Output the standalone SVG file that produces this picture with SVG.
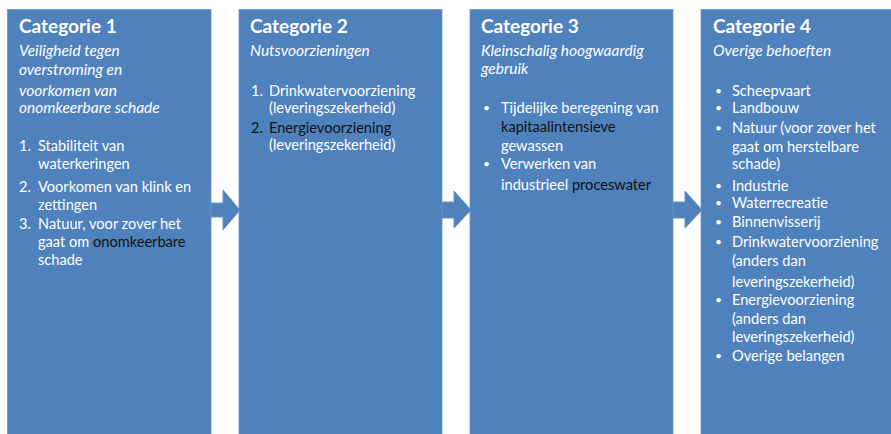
<svg xmlns="http://www.w3.org/2000/svg" width="891" height="434" viewBox="0 0 891 434">
<style>
.box{fill:#4F81BD;stroke:#6B94C8;stroke-width:0.8}
.arrow{fill:#4F81BD;stroke:#6B94C8;stroke-width:1}
text{font-family:Lato,"Open Sans","Liberation Sans",sans-serif;fill:#FFFFFF;font-size:14.6px}
.h{font-weight:bold;font-size:19px}
.i{font-style:italic;font-size:15.5px}
.b{font-size:12px}
.k{fill:#111111}
</style>
<rect width="891" height="434" fill="#FFFFFF"/>
<g id="connectors">
<polygon class="arrow" points="197,203 223,203 223,190 240,210 223,230 223,217 197,217"/>
<polygon class="arrow" points="428,202 454,202 454,191 471,210 454,228 454,218 428,218"/>
<polygon class="arrow" points="659,202 685,202 685,191 702,210 685,228 685,218 659,218"/>
</g>
<g id="cat1">
<rect class="box" x="7.5" y="9.5" width="203.5" height="430"/>
<text class="h" x="19" y="33">Categorie 1</text>
<text class="i" x="19" y="56">Veiligheid tegen</text>
<text class="i" x="19" y="75">overstroming en</text>
<text class="i" x="19" y="96">voorkomen van</text>
<text class="i" x="19" y="113">onomkeerbare schade</text>
<text x="19" y="151">1.</text><text x="38" y="151">Stabiliteit van</text>
<text x="38" y="169">waterkeringen</text>
<text x="19" y="192">2.</text><text x="38" y="192">Voorkomen van klink en</text>
<text x="38" y="210">zettingen</text>
<text x="19" y="229">3.</text><text x="38" y="229">Natuur, voor zover het</text>
<text x="38" y="247">gaat om <tspan class="k">onomkeerbare</tspan></text>
<text x="38" y="265">schade</text>
</g>
<g id="cat2">
<rect class="box" x="239" y="9.5" width="203" height="430"/>
<text class="h" x="250" y="33">Categorie 2</text>
<text class="i" x="250" y="56">Nutsvoorzieningen</text>
<text x="251" y="96">1.</text><text x="269" y="96">Drinkwatervoorziening</text>
<text x="269" y="113">(leveringszekerheid)</text>
<text class="k" x="251" y="133">2.</text><text class="k" x="269" y="133">Energievoorziening</text>
<text x="269" y="150">(leveringszekerheid)</text>
</g>
<g id="cat3">
<rect class="box" x="470" y="9.5" width="203" height="430"/>
<text class="h" x="481" y="33">Categorie 3</text>
<text class="i" x="481" y="56">Kleinschalig hoogwaardig</text>
<text class="i" x="481" y="74">gebruik</text>
<text class="b" x="483" y="112">•</text><text x="501" y="113">Tijdelijke beregening van</text>
<text class="k" x="501" y="132">kapitaalintensieve</text>
<text x="501" y="151">gewassen</text>
<text class="b" x="483" y="168">•</text><text x="501" y="169">Verwerken van</text>
<text x="501" y="190">industrieel <tspan class="k">proceswater</tspan></text>
</g>
<g id="cat4">
<rect class="box" x="701" y="9.5" width="200" height="430"/>
<text class="h" x="713" y="33">Categorie 4</text>
<text class="i" x="713" y="56">Overige behoeften</text>
<text class="b" x="715" y="95">•</text><text x="732" y="96">Scheepvaart</text>
<text class="b" x="715" y="112">•</text><text x="732" y="113">Landbouw</text>
<text class="b" x="715" y="132">•</text><text x="732" y="133">Natuur (voor zover het</text>
<text x="732" y="152">gaat om herstelbare</text>
<text x="732" y="169">schade)</text>
<text class="b" x="715" y="190">•</text><text x="732" y="191">Industrie</text>
<text class="b" x="715" y="207">•</text><text x="732" y="208">Waterrecreatie</text>
<text class="b" x="715" y="226">•</text><text x="732" y="227">Binnenvisserij</text>
<text class="b" x="715" y="246">•</text><text x="732" y="247">Drinkwatervoorziening</text>
<text x="732" y="266">(anders dan</text>
<text x="732" y="287">leveringszekerheid)</text>
<text class="b" x="715" y="304">•</text><text x="732" y="305">Energievoorziening</text>
<text x="732" y="324">(anders dan</text>
<text x="732" y="342">leveringszekerheid)</text>
<text class="b" x="715" y="360">•</text><text x="732" y="361">Overige belangen</text>
</g>
</svg>
